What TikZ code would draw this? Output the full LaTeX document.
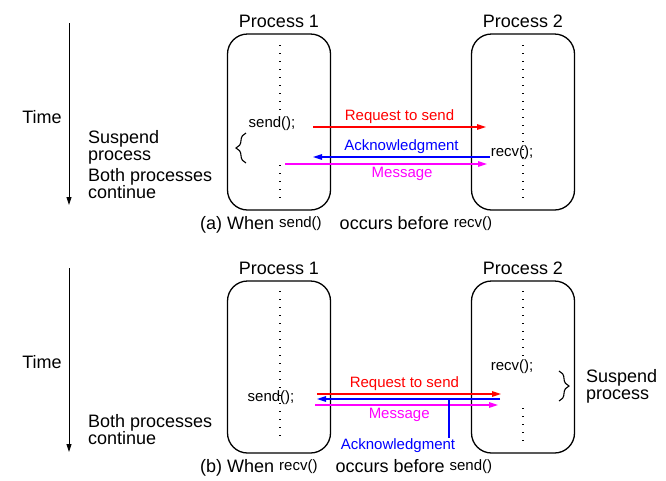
\documentclass[tikz,border=0pt]{standalone}
\usepackage{fontspec}
\setmainfont{Liberation Sans}
\definecolor{msgred}{RGB}{255,0,0}
\definecolor{msgblue}{RGB}{0,0,255}
\definecolor{msgmagenta}{RGB}{255,0,255}
\newcommand{\callfont}{\fontsize{15}{15}\selectfont}
\newcommand{\capcall}[1]{\raisebox{2.5pt}{\callfont #1}}
\usetikzlibrary{positioning,arrows.meta,decorations.pathreplacing}

\begin{document}
\begin{tikzpicture}[x=1pt, y=-1pt, node distance=4pt, every node/.style={inner sep=1pt}]
    \tikzstyle{procbox} = [rectangle, draw, rounded corners=20pt,
        minimum width=103pt, line width=1.3pt]
    \tikzstyle{bigtext} = [font=\fontsize{18}{17}\selectfont]
    \tikzstyle{smalltext} = [font=\callfont]
    \tikzstyle{msglabel} = [font=\callfont, inner sep=2.5pt]
    \tikzstyle{timearrow} = [line width=0.9pt, -{Triangle[length=8pt,width=5pt]}]
    \tikzstyle{msgarrow} = [line width=1.2pt, -{Triangle[length=9pt,width=5.5pt]}]
    \tikzstyle{dotline} = [line width=1.3pt, dash pattern=on 1.3pt off 6.7pt]
    \tikzstyle{brc} = [decorate, decoration={brace, amplitude=10pt}, line width=1.1pt]

    \useasboundingbox (0,0) rectangle (666,480);

    % (a) send before recv
    \coordinate (ta1) at (69,23);
    \coordinate (ta2) at (69,205);
    \draw [timearrow] (ta1) -- (ta2);
    \node [bigtext] (timea) at (42,117) {Time};
    \node [bigtext, anchor=west, align=left] (suspa) at (87,147.5) {Suspend\\process};
    \node [bigtext, anchor=west, align=left] (conta) at (87,183.5) {Both processes\\continue};

    \node [procbox, minimum height=176pt] (p1a) at (279,122) {};
    \node [procbox, minimum height=176pt] (p2a) at (523,122) {};
    \node [bigtext, above=of p1a] (l1a) {Process 1};
    \node [bigtext, above=of p2a] (l2a) {Process 2};

    \draw [dotline] (280,45) -- (280,112);
    \draw [dotline] (280,165) -- (280,198);
    \draw [dotline] (523,45) -- (523,198);
    \node [smalltext] (senda) at (272,124) {send();};
    \node [smalltext] (recva) at (512,153) {recv();};
    \draw [brc] (246,163) -- (246,133);

    \coordinate (rqa1) at (313,127);
    \coordinate (rqa2) at (486,127);
    \coordinate (aka1) at (490,157);
    \coordinate (aka2) at (313,157);
    \coordinate (msa1) at (285,164);
    \coordinate (msa2) at (487,164);
    \draw [msgarrow, msgred] (rqa1) -- node[msglabel, above] (rqla) {Request to send} (rqa2);
    \draw [msgarrow, msgblue] (aka1) -- node[msglabel, above] (akla) {Acknowledgment} (aka2);
    \draw [msgarrow, msgmagenta] (msa1) -- node[msglabel, below, pos=0.58] (msla) {Message} (msa2);

    \node [bigtext, anchor=west] (capa) at (199,225)
        {(a) When \capcall{send()}\hspace{18pt}occurs before \capcall{recv()}};

    % (b) recv before send
    \coordinate (tb1) at (69,268);
    \coordinate (tb2) at (69,452);
    \draw [timearrow] (tb1) -- (tb2);
    \node [bigtext] (timeb) at (42,362) {Time};
    \node [bigtext, anchor=west, align=left] (contb) at (87,430) {Both processes\\continue};
    \node [bigtext, anchor=west, align=left] (suspb) at (585,386) {Suspend\\process};

    \node [procbox, minimum height=172pt] (p1b) at (279,367) {};
    \node [procbox, minimum height=172pt] (p2b) at (523,367) {};
    \node [bigtext, above=of p1b] (l1b) {Process 1};
    \node [bigtext, above=of p2b] (l2b) {Process 2};

    \draw [dotline] (280,291) -- (280,442);
    \draw [dotline] (523,291) -- (523,357);
    \draw [dotline] (523,408) -- (523,442);
    \node [smalltext] (sendb) at (271,398) {send();};
    \node [smalltext] (recvb) at (512,367) {recv();};
    \draw [brc] (559,371) -- (559,401);

    \coordinate (rqb1) at (317,394);
    \coordinate (rqb2) at (501,394);
    \coordinate (akb1) at (500,399);
    \coordinate (akb2) at (317,399);
    \coordinate (msb1) at (315,405);
    \coordinate (msb2) at (498,405);
    \coordinate (akb) at (449,399);
    \draw [msgarrow, msgred] (rqb1) -- node[msglabel, above, pos=0.475] (rqlb) {Request to send} (rqb2);
    \draw [msgarrow, msgblue] (akb1) -- (akb2);
    \draw [msgarrow, msgmagenta] (msb1) -- node[msglabel, below, pos=0.46] (mslb) {Message} (msb2);
    \node [smalltext, msgblue] (aklb) at (398,446) {Acknowledgment};
    \draw [line width=1.2pt, msgblue] (akb) -- (akb |- aklb.north);

    \node [bigtext, anchor=west] (capb) at (199,468)
        {(b) When \capcall{recv()}\hspace{18pt}occurs before \capcall{send()}};
\end{tikzpicture}
\end{document}
